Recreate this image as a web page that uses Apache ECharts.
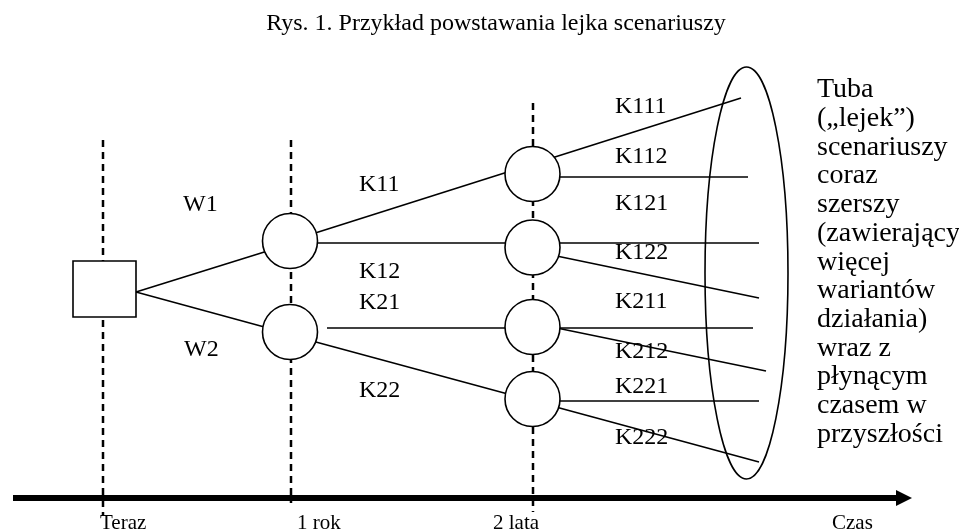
<!DOCTYPE html>
<html>
<head>
<meta charset="utf-8">
<script src="https://cdn.jsdelivr.net/npm/echarts@6/dist/echarts.min.js"></script>
<style>
html,body{margin:0;padding:0;background:#fff;}
#chart{width:959px;height:531px;}
</style>
</head>
<body>
<div id="chart"></div>
<script>
// ---------- data (diagram coordinates) ----------
const titleText = 'Rys. 1. Przykład powstawania lejka scenariuszy';
const timeLabels = ['Teraz', '1 rok', '2 lata', 'Czas'];
const timeLabelX = [100, 297, 493, 832];
const timeLineX = [103, 291, 533];
const timeLineTop = [140, 140, 103];
const timeLineBottom = [515, 503, 512];
const decisionNode = [104.5, 289];
const chanceNodes1 = [[290, 241], [290, 332]];
const chanceNodes2 = [[532.5, 174], [532.5, 247.5], [532.5, 327], [532.5, 399]];
const branchNames = ['W1', 'W2', 'K11', 'K12', 'K21', 'K22', 'K111', 'K112', 'K121', 'K122', 'K211', 'K212', 'K221', 'K222'];
const branchLabelAt = [[183, 205], [184, 350], [359, 185], [359, 272], [359, 303], [359, 391],
  [615, 107], [615, 157], [615, 203.5], [615, 253], [615, 302], [615, 352], [615, 387], [615, 438]];
const branchFrom = [[136, 292], [136, 292], [290, 241], [290, 243], [327, 328], [290, 335],
  [532.5, 177], [532.5, 251], [532.5, 323], [532.5, 401]];
const branchTo = [[290, 244], [290, 334], [741, 98], [759, 243], [753, 328], [759, 462],
  [748, 177], [759, 298], [766, 371], [759, 401]];
const funnelEllipse = [746.5, 273, 41.5, 206];
const funnelText = ['Tuba', '(„lejek”)', 'scenariuszy', 'coraz', 'szerszy', '(zawierający', 'więcej',
  'wariantów', 'działania)', 'wraz z', 'płynącym', 'czasem w', 'przyszłości'];
const funnelTextAt = [817, 75.6];
const timeAxisLine = [13, 912, 498];

// ---------- chart ----------
const FONT = '"Liberation Serif", "Times New Roman", serif';
const chart = echarts.init(document.getElementById('chart'), null, { renderer: 'canvas' });

function textEl(api, x, y, text, size, align, vAlign, extra) {
  const p = api.coord([x, y]);
  return {
    type: 'text',
    style: Object.assign({
      text: text, x: p[0], y: p[1],
      font: size + 'px ' + FONT, fill: '#000',
      align: align, verticalAlign: vAlign,
      textAlign: align, textVerticalAlign: vAlign
    }, extra || {})
  };
}

const option = {
  animation: false,
  backgroundColor: '#fff',
  grid: { left: 0, right: 0, top: 0, bottom: 0 },
  xAxis: { type: 'value', min: 0, max: 959, show: false },
  yAxis: { type: 'value', min: 0, max: 531, inverse: true, show: false },
  series: [
    // dashed time lines
    {
      type: 'custom', silent: true, clip: false, z: 1,
      data: timeLineX.map((x, i) => [x, timeLineTop[i], timeLineBottom[i]]),
      renderItem: function (params, api) {
        const a = api.coord([api.value(0), api.value(1)]);
        const b = api.coord([api.value(0), api.value(2)]);
        return { type: 'line', shape: { x1: a[0], y1: a[1], x2: b[0], y2: b[1] },
          style: { stroke: '#000', lineWidth: 2.5, lineDash: [7, 5] } };
      }
    },
    // time axis arrow
    {
      type: 'custom', silent: true, clip: false, z: 2,
      data: [timeAxisLine],
      renderItem: function (params, api) {
        const a = api.coord([api.value(0), api.value(2)]);
        const b = api.coord([api.value(1), api.value(2)]);
        return { type: 'group', children: [
          { type: 'line', shape: { x1: a[0], y1: a[1], x2: b[0] - 14, y2: b[1] },
            style: { stroke: '#000', lineWidth: 6 } },
          { type: 'polygon', shape: { points: [[b[0] - 16, b[1] - 8], [b[0], b[1]], [b[0] - 16, b[1] + 8]] },
            style: { fill: '#000' } }
        ] };
      }
    },
    // branches
    {
      type: 'custom', silent: true, clip: false, z: 3,
      data: branchFrom.map((f, i) => [f[0], f[1], branchTo[i][0], branchTo[i][1]]),
      renderItem: function (params, api) {
        const a = api.coord([api.value(0), api.value(1)]);
        const b = api.coord([api.value(2), api.value(3)]);
        return { type: 'line', shape: { x1: a[0], y1: a[1], x2: b[0], y2: b[1] },
          style: { stroke: '#000', lineWidth: 1.6 } };
      }
    },
    // funnel ellipse
    {
      type: 'custom', silent: true, clip: false, z: 4,
      data: [funnelEllipse],
      renderItem: function (params, api) {
        const c = api.coord([api.value(0), api.value(1)]);
        const s = api.size([api.value(2), api.value(3)]);
        return { type: 'ellipse', shape: { cx: c[0], cy: c[1], rx: s[0], ry: s[1] },
          style: { fill: 'none', stroke: '#000', lineWidth: 1.6 } };
      }
    },
    // decision node (square)
    {
      type: 'custom', silent: true, clip: false, z: 5,
      data: [decisionNode],
      renderItem: function (params, api) {
        const c = api.coord([api.value(0), api.value(1)]);
        const s = api.size([63, 56]);
        return { type: 'rect', shape: { x: c[0] - s[0] / 2, y: c[1] - s[1] / 2, width: s[0], height: s[1] },
          style: { fill: '#fff', stroke: '#000', lineWidth: 1.6 } };
      }
    },
    // chance nodes (circles)
    {
      type: 'custom', silent: true, clip: false, z: 5,
      data: chanceNodes1.concat(chanceNodes2),
      renderItem: function (params, api) {
        const c = api.coord([api.value(0), api.value(1)]);
        const r = api.size([27.5, 0])[0];
        return { type: 'circle', shape: { cx: c[0], cy: c[1], r: r },
          style: { fill: '#fff', stroke: '#000', lineWidth: 1.6 } };
      }
    },
    // branch labels
    {
      type: 'custom', silent: true, clip: false, z: 6,
      data: branchLabelAt.map((p, i) => [p[0], p[1], i]),
      renderItem: function (params, api) {
        return textEl(api, api.value(0), api.value(1), branchNames[api.value(2)], 24, 'left', 'middle');
      }
    },
    // time labels
    {
      type: 'custom', silent: true, clip: false, z: 6,
      data: timeLabelX.map((x, i) => [x, 523, i]),
      renderItem: function (params, api) {
        return textEl(api, api.value(0), api.value(1), timeLabels[api.value(2)], 21, 'left', 'middle');
      }
    },
    // funnel description + title
    {
      type: 'custom', silent: true, clip: false, z: 6,
      data: [[funnelTextAt[0], funnelTextAt[1], 0], [496, 24, 1]],
      renderItem: function (params, api) {
        if (api.value(2) === 0) {
          return textEl(api, api.value(0), api.value(1), funnelText.join('\n'), 28, 'left', 'top', { lineHeight: 28.7 });
        }
        return textEl(api, api.value(0), api.value(1), titleText, 24, 'center', 'middle');
      }
    }
  ]
};
chart.setOption(option);
</script>
</body>
</html>
